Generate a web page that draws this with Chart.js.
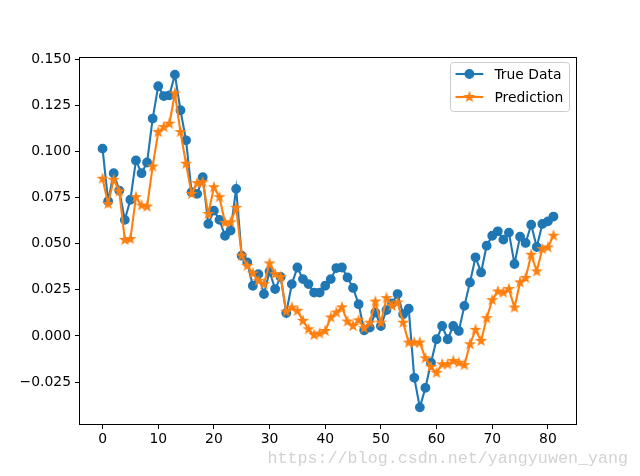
<!DOCTYPE html>
<html>
<head>
<meta charset="utf-8">
<script src="https://cdn.jsdelivr.net/npm/chart.js@4.4.0/dist/chart.umd.min.js"></script>
<style>
html, body { margin: 0; padding: 0; background: #fff; }
#wrap { width: 640px; height: 476px; }
</style>
</head>
<body>
<div id="wrap"><canvas id="chart" width="640" height="476"></canvas></div>
<script>
// Values
const trueData = [
    0.1015, 0.0730, 0.0882, 0.0788, 0.0629, 0.0738, 0.0951, 0.0882, 0.0940, 0.1178,
    0.1353, 0.1300, 0.1304, 0.1416, 0.1223, 0.1060, 0.0779, 0.0770, 0.0860, 0.0607,
    0.0679, 0.0629, 0.0543, 0.0571, 0.0797, 0.0435, 0.0398, 0.0272, 0.0335, 0.0227,
    0.0350, 0.0254, 0.0320, 0.0124, 0.0281, 0.0371, 0.0308, 0.0281, 0.0235, 0.0235,
    0.0272, 0.0308, 0.0368, 0.0371, 0.0317, 0.0260, 0.0172, 0.0031, 0.0045, 0.0127,
    0.0054, 0.0140, 0.0176, 0.0227, 0.0118, 0.0148, -0.0227, -0.0387, -0.0281, -0.0145,
    -0.0018, 0.0054, -0.0018, 0.0054, 0.0027, 0.0163, 0.0290, 0.0426, 0.0344, 0.0489,
    0.0543, 0.0567, 0.0522, 0.0560, 0.0390, 0.0538, 0.0504, 0.0603, 0.0482, 0.0607,
    0.0621, 0.0647
];

const predData = [
    0.0852, 0.0716, 0.0846, 0.0784, 0.0520, 0.0525, 0.0752, 0.0707, 0.0701, 0.0918,
    0.1105, 0.1132, 0.1150, 0.1314, 0.1105, 0.0933, 0.0770, 0.0828, 0.0833, 0.0661,
    0.0806, 0.0752, 0.0613, 0.0616, 0.0694, 0.0435, 0.0380, 0.0339, 0.0299, 0.0281,
    0.0393, 0.0335, 0.0320, 0.0132, 0.0154, 0.0136, 0.0082, 0.0036, 0.0005, 0.0013,
    0.0027, 0.0100, 0.0127, 0.0155, 0.0078, 0.0054, 0.0085, 0.0042, 0.0072, 0.0186,
    0.0072, 0.0205, 0.0163, 0.0181, 0.0072, -0.0036, -0.0036, -0.0036, -0.0121, -0.0168,
    -0.0200, -0.0154, -0.0154, -0.0136, -0.0145, -0.0158, -0.0045, 0.0033, -0.0027, 0.0096,
    0.0194, 0.0241, 0.0235, 0.0254, 0.0154, 0.0290, 0.0314, 0.0440, 0.0350, 0.0471,
    0.0480, 0.0543
];

const seriesNames = ['True Data', 'Prediction'];
const xTicks = [0, 10, 20, 30, 40, 50, 60, 70, 80];
const yTicks = [-0.025, 0.000, 0.025, 0.050, 0.075, 0.100, 0.125, 0.150];

// matplotlib style colours
const blue = '#1f77b4';
const orange = '#ff7f0e';
const tickFont = { family: 'DejaVu Sans', size: 13.9 };

// axis limits like matplotlib's 5% margins
const allVals = trueData.concat(predData);
const dMin = Math.min(...allVals), dMax = Math.max(...allVals);
const yPad = (dMax - dMin) * 0.05;
const xPad = (trueData.length - 1) * 0.05;

// filled five point star marker
function makeStar(color) {
    const c = document.createElement('canvas');
    c.width = 16; c.height = 16;
    const g = c.getContext('2d');
    const R = 4.2, r = R * 0.381966;
    g.beginPath();
    for (let k = 0; k < 10; k++) {
        const rad = k % 2 ? r : R;
        const a = -Math.PI / 2 + k * Math.PI / 5;
        const px = 8 + rad * Math.cos(a), py = 8 + rad * Math.sin(a);
        if (k) g.lineTo(px, py); else g.moveTo(px, py);
    }
    g.closePath();
    g.fillStyle = color;
    g.fill();
    g.strokeStyle = color;
    g.lineWidth = 1.4;
    g.lineJoin = 'miter';
    g.stroke();
    return c;
}
const starImg = makeStar(orange);

const toPoints = arr => arr.map((v, i) => ({ x: i, y: v }));

function fmtY(v) {
    return v.toFixed(3).replace('-', '\u2212');
}

// frame around the plot area
const framePlugin = {
    id: 'frame',
    afterDraw(chart) {
        const { ctx, chartArea: a } = chart;
        ctx.save();
        ctx.strokeStyle = '#000';
        ctx.lineWidth = 1;
        ctx.strokeRect(Math.round(a.left) - 0.5, Math.round(a.top) - 0.5,
            Math.round(a.right - a.left) + 1, Math.round(a.bottom - a.top) + 1);
        ctx.restore();
    }
};

// legend drawn inside the axes, upper right
const legendPlugin = {
    id: 'innerLegend',
    afterDraw(chart) {
        const { ctx, chartArea: a } = chart;
        const ds = chart.data.datasets;
        ctx.save();
        ctx.font = '13.9px "DejaVu Sans"';
        const textW = Math.max(...seriesNames.map(n => ctx.measureText(n).width));
        const boxW = 5.6 + 27.8 + 11.1 + textW + 5.6;
        const boxR = a.right - 7;
        const boxL = boxR - boxW;
        const boxT = a.top + 4;
        const boxH = 49;
        ctx.beginPath();
        ctx.roundRect(Math.round(boxL) + 0.5, Math.round(boxT) + 0.5, Math.round(boxW), boxH, 3);
        ctx.fillStyle = 'rgba(255,255,255,0.8)';
        ctx.fill();
        ctx.strokeStyle = '#cccccc';
        ctx.lineWidth = 1;
        ctx.stroke();

        ds.forEach((d, i) => {
            const cy = boxT + 12 + i * 23;
            const hx0 = boxL + 5.6, hx1 = hx0 + 27.8, mx = (hx0 + hx1) / 2;
            ctx.strokeStyle = d.borderColor;
            ctx.lineWidth = 2.1;
            ctx.beginPath();
            ctx.moveTo(hx0, cy);
            ctx.lineTo(hx1, cy);
            ctx.stroke();
            if (d.pointStyle === 'circle') {
                ctx.beginPath();
                ctx.arc(mx, cy, 4.2, 0, Math.PI * 2);
                ctx.fillStyle = d.borderColor;
                ctx.fill();
                ctx.lineWidth = 1.4;
                ctx.stroke();
            } else {
                ctx.drawImage(starImg, mx - 8, cy - 8);
            }
            ctx.fillStyle = '#000';
            ctx.textBaseline = 'middle';
            ctx.textAlign = 'left';
            ctx.fillText(seriesNames[i], hx1 + 11.1, cy + 1);
        });
        ctx.restore();
    }
};

// light watermark under the x axis
const watermarkPlugin = {
    id: 'watermark',
    afterDraw(chart) {
        const ctx = chart.ctx;
        ctx.save();
        ctx.font = '16.7px "Liberation Mono"';
        ctx.fillStyle = '#d2d2d2';
        ctx.textAlign = 'right';
        ctx.textBaseline = 'alphabetic';
        ctx.fillText('https://blog.csdn.net/yangyuwen_yang', 628, 463);
        ctx.restore();
    }
};

const ctx = document.getElementById('chart').getContext('2d');
new Chart(ctx, {
    type: 'line',
    data: {
        datasets: [{
            label: seriesNames[0],
            data: toPoints(trueData),
            borderColor: blue,
            backgroundColor: blue,
            borderWidth: 2.1,
            pointStyle: 'circle',
            pointRadius: 4.2,
            pointBorderWidth: 1.4,
            pointBackgroundColor: blue,
            pointBorderColor: blue,
            tension: 0,
            order: 2
        }, {
            label: seriesNames[1],
            data: toPoints(predData),
            borderColor: orange,
            backgroundColor: orange,
            borderWidth: 2.1,
            pointStyle: starImg,
            pointRadius: 4.2,
            tension: 0,
            order: 1
        }]
    },
    options: {
        responsive: false,
        animation: false,
        devicePixelRatio: 1,
        layout: { padding: { left: 0, right: 64, top: 58, bottom: 0 } },
        plugins: {
            legend: { display: false },
            tooltip: { enabled: false }
        },
        scales: {
            x: {
                type: 'linear',
                min: -xPad,
                max: trueData.length - 1 + xPad,
                afterBuildTicks: s => { s.ticks = xTicks.map(v => ({ value: v })); },
                afterFit: s => { s.height = 52; },
                ticks: { color: '#000', font: tickFont, padding: 2, autoSkip: false, maxRotation: 0 },
                grid: { drawOnChartArea: false, drawTicks: true, tickLength: 5, color: '#000' },
                border: { display: false }
            },
            y: {
                type: 'linear',
                min: dMin - yPad,
                max: dMax + yPad,
                afterBuildTicks: s => { s.ticks = yTicks.map(v => ({ value: v })); },
                afterFit: s => { s.width = 80; },
                ticks: { color: '#000', font: tickFont, padding: 4, autoSkip: false, callback: v => fmtY(v) },
                grid: { drawOnChartArea: false, drawTicks: true, tickLength: 5, color: '#000' },
                border: { display: false }
            }
        }
    },
    plugins: [framePlugin, legendPlugin, watermarkPlugin]
});
</script>
</body>
</html>
